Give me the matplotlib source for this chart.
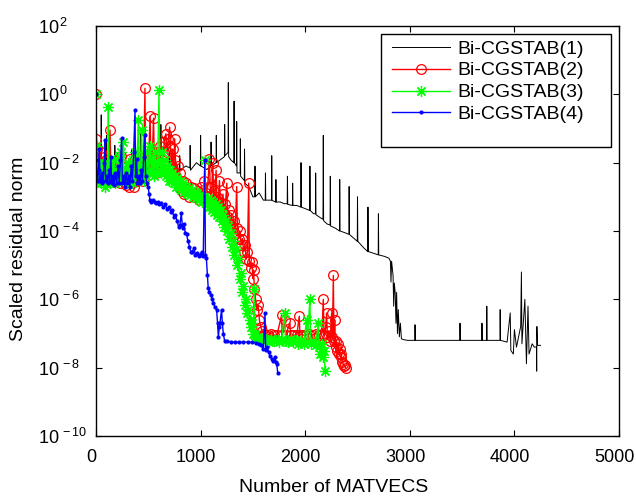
import matplotlib
matplotlib.use("Agg")
import matplotlib.pyplot as plt
import matplotlib.transforms as mtransforms
from matplotlib.patches import Rectangle

plt.rcParams['font.family'] = ['Liberation Sans', 'DejaVu Sans']
plt.rcParams['mathtext.fontset'] = 'custom'
plt.rcParams['mathtext.rm'] = 'Liberation Sans'
plt.rcParams['mathtext.it'] = 'Liberation Sans'

# Bi-CGSTAB(1): number of matvecs and scaled residual norm
x1 = [0, 8, 30, 48, 50, 53, 78, 98, 100, 103, 150, 178, 180, 183, 230, 258, 260, 263,
      300, 338, 340, 343, 400, 428, 430, 433, 480, 518, 520, 523, 580, 618, 620, 623,
      650, 698, 700, 703, 760, 798, 800, 803, 860, 898, 900, 903, 960, 998, 1000, 1003,
      1060, 1098, 1100, 1103, 1148, 1150, 1153, 1200, 1228, 1230, 1233, 1263, 1265,
      1268, 1290, 1318, 1320, 1323, 1343, 1345, 1348, 1378, 1380, 1383, 1418, 1420,
      1423, 1460, 1500, 1518, 1520, 1523, 1560, 1600, 1618, 1620, 1623, 1678, 1680,
      1683, 1718, 1720, 1723, 1760, 1800, 1828, 1830, 1833, 1878, 1880, 1883, 1920,
      1958, 1960, 1963, 2000, 2043, 2045, 2048, 2080, 2098, 2100, 2103, 2140, 2170,
      2173, 2176, 2210, 2238, 2240, 2243, 2290, 2328, 2330, 2333, 2380, 2418, 2420,
      2423, 2460, 2498, 2500, 2503, 2560, 2598, 2600, 2603, 2660, 2698, 2700, 2703,
      2760, 2800, 2815, 2820, 2826, 2840, 2846, 2852, 2860, 2868, 2874, 2882, 2890,
      2900, 2910, 2920, 2940, 2980, 3048, 3050, 3053, 3300, 3478, 3480, 3483, 3688,
      3690, 3693, 3734, 3736, 3739, 3862, 3864, 3867, 3930, 3960, 3966, 3990, 4000,
      4020, 4060, 4067, 4072, 4100, 4115, 4130, 4140, 4170, 4190, 4211, 4213, 4215,
      4220, 4250]
r1 = [1.0, 1.3e-2, 6e-3, 7e-3, 2.5e-1, 7e-3, 1e-2, 8e-3, 6.3e-2, 6e-3, 5e-3, 6e-3,
      3.2e-2, 6e-3, 8e-3, 6e-3, 5e-2, 5e-3, 6.3e-3, 6e-3, 2.5e-2, 5e-3, 6.3e-3, 7e-3,
      7.9e-2, 7e-3, 4e-3, 5e-3, 3.2e-2, 5e-3, 7.9e-3, 7e-3, 1.3e-1, 6e-3, 6e-3, 6e-3,
      2e-2, 5e-3, 7.9e-3, 6e-3, 1.6e-2, 6e-3, 8e-3, 7e-3, 3.2e-2, 6e-3, 1e-2, 8e-3,
      6.3e-2, 8e-3, 6.3e-3, 8e-3, 4e-2, 8e-3, 1e-2, 6.3e-2, 1e-2, 1.3e-2, 1.5e-2,
      1.3e-1, 1.6e-2, 2e-2, 2.2, 1.5e-2, 1.2e-2, 1e-2, 6.3e-1, 1e-2, 8e-3, 1.6e-1,
      5e-3, 5e-3, 5e-2, 4e-3, 3e-3, 2.5e-2, 2.5e-3, 2e-3, 1e-3, 1e-3, 7.9e-3, 1e-3,
      1.3e-3, 8e-4, 8e-4, 5e-3, 8e-4, 8e-4, 1.6e-2, 7.9e-4, 7e-4, 3.2e-3, 7e-4,
      7.1e-4, 6.3e-4, 6.3e-4, 4e-3, 6e-4, 5.6e-4, 2.5e-3, 5.6e-4, 5.6e-4, 5e-4,
      1e-2, 5e-4, 4.5e-4, 4e-4, 7.9e-3, 4e-4, 3.2e-4, 3.2e-4, 5e-3, 3e-4, 2.5e-4,
      2.2e-4, 6.3e-2, 2e-4, 1.6e-4, 1.5e-4, 4e-3, 1.4e-4, 1.2e-4, 1e-4, 3.2e-3, 1e-4,
      8.9e-5, 8e-5, 2e-3, 7.9e-5, 6.3e-5, 5e-5, 1e-3, 5e-5, 3.2e-5, 2.5e-5, 5e-4,
      2.5e-5, 2.2e-5, 2e-5, 3.2e-4, 2e-5, 1.8e-5, 1.6e-5, 1.3e-5, 3.2e-6, 1.3e-5,
      5e-6, 6.3e-7, 3e-6, 1.6e-6, 2e-7, 1.6e-6, 1e-7, 5e-7, 8e-8, 2e-7, 7e-8, 6.6e-8,
      6.3e-8, 6.3e-8, 1.8e-7, 6.3e-8, 6.3e-8, 6.3e-8, 2e-7, 6.3e-8, 6.3e-8, 2e-7,
      6.3e-8, 6.3e-8, 6.3e-7, 6.3e-8, 6.3e-8, 5e-7, 6.3e-8, 5.6e-8, 4e-7, 3.2e-8,
      2.5e-8, 1.3e-7, 4e-8, 1.6e-7, 6.3e-6, 5e-8, 1e-6, 1.3e-8, 6.3e-7, 2.5e-8, 5e-8,
      4e-8, 4e-8, 7.9e-9, 1.6e-7, 4.5e-8, 4.5e-8]

# Bi-CGSTAB(2)
x2 = [0, 4, 8, 14, 20, 28, 36, 44, 52, 60, 70, 80, 90, 100, 112, 124, 134, 142, 152,
      164, 176, 188, 200, 214, 228, 242, 256, 270, 284, 298, 312, 326, 340, 354, 368,
      382, 396, 410, 424, 438, 452, 468, 474, 486, 500, 517, 524, 536, 550, 558, 570,
      584, 598, 612, 626, 640, 654, 668, 680, 692, 704, 712, 722, 732, 742, 752, 760,
      770, 780, 790, 804, 818, 832, 846, 860, 876, 892, 908, 924, 940, 956, 972, 988,
      1004, 1020, 1036, 1052, 1068, 1084, 1092, 1104, 1116, 1124, 1136, 1148, 1156,
      1168, 1180, 1190, 1202, 1214, 1226, 1238, 1250, 1258, 1270, 1282, 1294, 1306,
      1318, 1330, 1345, 1352, 1364, 1376, 1388, 1400, 1412, 1424, 1436, 1448, 1460,
      1466, 1478, 1490, 1502, 1507, 1514, 1526, 1538, 1550, 1562, 1574, 1588, 1604,
      1620, 1640, 1670, 1700, 1730, 1775, 1780, 1806, 1812, 1854, 1860, 1890, 1920,
      1943, 1950, 1980, 2010, 2040, 2070, 2100, 2130, 2160, 2173, 2180, 2195, 2205,
      2212, 2225, 2240, 2253, 2260, 2269, 2275, 2282, 2290, 2298, 2306, 2314, 2322,
      2330, 2338, 2346, 2354, 2362, 2370, 2378, 2386]
r2 = [1.0, 5e-2, 1.3e-2, 2.5e-2, 5e-3, 1e-2, 6e-3, 2e-2, 4e-3, 8e-3, 5e-3, 1.5e-2,
      4e-3, 7e-3, 3e-3, 1.2e-2, 9e-2, 6e-3, 3.5e-3, 8e-3, 3e-3, 1.1e-2, 4e-3, 6e-3,
      2.5e-3, 1.6e-2, 3e-3, 5e-3, 2.2e-3, 8e-3, 2e-3, 1.3e-2, 2.5e-3, 5e-3, 2e-3,
      7e-3, 3e-3, 1.5e-2, 4e-3, 8e-3, 3e-3, 1.5, 5e-3, 1e-2, 6e-3, 2.3e-1, 1.6e-2,
      8e-3, 2e-1, 1e-2, 5e-3, 2e-2, 6e-3, 3e-2, 8e-3, 1.6e-2, 4e-2, 7e-2, 2e-2, 5e-2,
      1.1e-1, 3e-2, 8e-3, 2.5e-2, 5e-3, 5e-2, 1.2e-2, 3e-3, 8e-3, 2e-3, 5e-3, 1.5e-3,
      3e-3, 1.2e-3, 2.5e-3, 1.5e-3, 1e-3, 2e-3, 1.3e-3, 1.8e-3, 1e-3, 1.5e-3, 8e-4,
      2e-3, 1.2e-3, 3e-3, 1.3e-3, 2e-3, 1.3e-2, 2e-3, 1e-3, 1e-2, 1.5e-3, 8e-4, 6e-3,
      1e-3, 5e-4, 3e-3, 7e-4, 4e-4, 1.2e-3, 3.3e-4, 6e-4, 2.5e-3, 2.5e-4, 4e-4,
      1.6e-4, 3e-4, 1.2e-4, 2e-4, 8e-5, 2e-3, 1.2e-4, 6e-5, 1e-4, 4e-5, 6e-5, 2.5e-5,
      4e-5, 1.5e-5, 2.5e-5, 2.5e-3, 1.3e-5, 8e-6, 1.2e-5, 4e-6, 7.2e-6, 2e-6, 1e-6,
      5e-7, 7e-7, 2.5e-7, 1.6e-7, 1.2e-7, 1e-7, 9e-8, 9e-8, 1e-7, 9e-8, 9e-8, 3.5e-7,
      9e-8, 2.5e-7, 9e-8, 2e-7, 9e-8, 9e-8, 9e-8, 3.2e-7, 9e-8, 9e-8, 9e-8, 1e-7,
      9e-8, 1e-7, 9e-8, 1e-7, 1e-6, 9e-8, 1.5e-7, 4e-7, 8e-8, 1.2e-7, 6e-8, 4e-7,
      8e-8, 5e-6, 6e-8, 2.5e-7, 4e-8, 6e-8, 3e-8, 5e-8, 2.5e-8, 3.5e-8, 2e-8, 2.5e-8,
      1.5e-8, 1.3e-8, 1.1e-8, 1.2e-8, 1e-8]

# Bi-CGSTAB(3)
x3 = [0, 5, 10, 18, 26, 34, 42, 50, 60, 70, 80, 90, 100, 110, 118, 124, 134, 146, 158,
      170, 182, 194, 206, 218, 230, 242, 252, 261, 268, 280, 292, 304, 316, 328, 340,
      352, 364, 376, 388, 405, 412, 424, 436, 444, 456, 468, 480, 492, 504, 516, 528,
      540, 552, 564, 576, 590, 602, 610, 622, 634, 646, 658, 670, 682, 694, 706, 718,
      730, 742, 754, 766, 778, 790, 803, 816, 830, 844, 858, 872, 886, 900, 914, 928,
      942, 956, 970, 984, 998, 1012, 1026, 1042, 1048, 1060, 1072, 1084, 1096, 1108,
      1120, 1132, 1144, 1156, 1168, 1180, 1192, 1204, 1216, 1228, 1240, 1252, 1264,
      1276, 1288, 1300, 1312, 1324, 1336, 1348, 1360, 1372, 1384, 1396, 1408, 1420,
      1432, 1444, 1456, 1468, 1481, 1494, 1505, 1513, 1520, 1532, 1546, 1560, 1575,
      1600, 1625, 1650, 1675, 1700, 1725, 1750, 1775, 1806, 1812, 1835, 1860, 1885,
      1910, 1935, 1960, 1985, 2013, 2020, 2045, 2052, 2075, 2100, 2125, 2132, 2145,
      2160, 2172, 2182, 2189]
r3 = [1.0, 3e-2, 8e-3, 4e-3, 1e-2, 3e-3, 6e-3, 2.5e-3, 8e-3, 3e-3, 1e-2, 2e-3, 5e-3,
      3e-3, 4.2e-1, 6e-3, 2.5e-3, 8e-3, 3e-3, 1.2e-2, 2.5e-3, 6e-3, 3e-3, 1.5e-2,
      4e-3, 2e-2, 5e-3, 4e-2, 3e-3, 7e-3, 2.5e-3, 1e-2, 3e-3, 6e-3, 2.5e-3, 1.2e-2,
      4e-3, 2e-2, 5e-3, 1.8e-1, 8e-3, 4e-3, 9e-2, 6e-3, 3e-3, 1e-2, 4e-3, 2e-2, 5e-3,
      3e-2, 6e-3, 1.2e-2, 4e-3, 2e-2, 5e-3, 1e-2, 1.35, 1e-2, 5e-3, 2e-2, 6e-3,
      1.2e-2, 4e-3, 8e-3, 3e-3, 6e-3, 3e-3, 5e-3, 2.5e-3, 4e-3, 2e-3, 3.5e-3, 2e-3,
      3e-3, 1.6e-3, 2.5e-3, 1.4e-3, 2e-3, 1.2e-3, 1.8e-3, 1.1e-3, 1.6e-3, 1e-3,
      1.4e-3, 9e-4, 1.3e-3, 8e-4, 1.1e-3, 7e-4, 1e-3, 1.2e-2, 8e-4, 6e-4, 9e-4, 5e-4,
      8e-4, 4e-4, 7e-4, 3.5e-4, 6e-4, 3e-4, 5e-4, 2.5e-4, 4e-4, 2e-4, 3e-4, 1.3e-4,
      2e-4, 1e-4, 1.4e-4, 6e-5, 9e-5, 3.5e-5, 5e-5, 2e-5, 3e-5, 1e-5, 1.5e-5, 4e-6,
      6e-6, 1.6e-6, 2.5e-6, 7e-7, 1e-6, 4e-7, 5e-7, 2.5e-7, 1.6e-7, 2e-7, 1e-7, 2e-6,
      1e-7, 7e-8, 8e-8, 6.5e-8, 7e-8, 6e-8, 7e-8, 5.5e-8, 7e-8, 6e-8, 6.5e-8, 5.5e-8,
      7e-8, 4e-7, 6e-8, 5.5e-8, 7e-8, 5.5e-8, 6.5e-8, 5e-8, 6.5e-8, 5e-8, 2.5e-7,
      5.5e-8, 1.05e-6, 5e-8, 6e-8, 4.5e-8, 2e-7, 4e-8, 2.5e-8, 5e-8, 2e-8, 3e-8,
      7.9e-9]

# Bi-CGSTAB(4)
x4 = [0, 4, 10, 16, 24, 32, 38, 46, 54, 62, 70, 78, 86, 92, 102, 112, 122, 132, 142,
      150, 162, 174, 186, 198, 210, 222, 234, 245, 252, 264, 276, 288, 300, 312, 324,
      336, 348, 360, 373, 378, 388, 396, 408, 420, 432, 444, 456, 468, 474, 486, 498,
      508, 516, 530, 545, 560, 575, 590, 605, 620, 640, 660, 680, 700, 715, 730, 745,
      760, 775, 790, 803, 815, 828, 840, 853, 866, 880, 893, 906, 920, 937, 950, 965,
      980, 995, 1010, 1025, 1040, 1046, 1055, 1065, 1073, 1085, 1100, 1112, 1122, 1135,
      1153, 1162, 1170, 1178, 1185, 1200, 1208, 1217, 1230, 1250, 1290, 1330, 1370,
      1410, 1450, 1490, 1530, 1560, 1580, 1600, 1616, 1622, 1636, 1650, 1664, 1680,
      1696, 1710, 1720, 1728, 1737]
r4 = [1.0, 1.2e-2, 5e-3, 3e-3, 6e-3, 2.5e-2, 3e-3, 4e-3, 2.5e-3, 5e-3, 3e-3, 1e-2,
      4.6e-2, 3e-3, 4e-3, 2.5e-3, 6e-3, 3e-3, 1.5e-2, 2.5e-3, 4e-3, 2.2e-3, 5e-3,
      2.5e-3, 8e-3, 2.5e-3, 1.2e-2, 5.1e-2, 2.5e-3, 4e-3, 2e-3, 5e-3, 2.5e-3, 4e-3,
      2e-3, 8e-3, 3e-3, 2e-2, 3.4e-1, 4e-3, 1.3e-2, 2.5e-3, 4e-3, 2.5e-3, 6e-3, 3e-3,
      1.5e-2, 6.5e-2, 4e-3, 2.5e-3, 2e-3, 1.2e-3, 8e-4, 7e-4, 8e-4, 7e-4, 6.5e-4,
      7e-4, 6e-4, 6.5e-4, 5e-4, 6e-4, 4.5e-4, 5e-4, 3.5e-4, 4e-4, 2.5e-4, 3e-4, 2e-4,
      1.3e-4, 1.5e-4, 3.3e-4, 1.2e-4, 1.6e-4, 9e-5, 7.9e-5, 5e-5, 3.5e-5, 2.5e-5,
      2.5e-5, 3.2e-5, 2e-5, 2.2e-5, 1.8e-5, 2e-5, 2.5e-5, 1.8e-5, 1.2e-2, 2e-5,
      1.6e-5, 5e-6, 2.1e-6, 1.6e-6, 1.3e-6, 1e-6, 8e-7, 6e-7, 5e-7, 2e-7, 7.9e-8,
      1.5e-7, 2e-7, 5e-7, 2e-7, 1e-7, 6e-8, 5.9e-8, 5.7e-8, 5.6e-8, 5.6e-8, 5.6e-8,
      5.6e-8, 5.5e-8, 5.4e-8, 5e-8, 4.5e-8, 3.5e-8, 4e-7, 3.2e-8, 4e-8, 2.8e-8,
      2.2e-8, 1.8e-8, 1.6e-8, 2e-8, 1.5e-8, 1.3e-8, 7.2e-9]

labels = ['Bi-CGSTAB(1)', 'Bi-CGSTAB(2)', 'Bi-CGSTAB(3)', 'Bi-CGSTAB(4)']
yticks = [1e2, 1e0, 1e-2, 1e-4, 1e-6, 1e-8, 1e-10]
ytick_labels = [r'$10^{\,2}$', r'$10^{\,0}$', r'$10^{\,-2}$', r'$10^{\,-4}$',
                r'$10^{\,-6}$', r'$10^{\,-8}$', r'$10^{\,-10}$']
xticks = [0, 1000, 2000, 3000, 4000, 5000]

fig = plt.figure(figsize=(6.36, 4.96), dpi=100)
ax = fig.add_axes([96 / 636, 1 - 436 / 496, 523 / 636, 410 / 496])

ax.semilogy(x1, r1, color='k', linewidth=0.7, label=labels[0])
ax.semilogy(x2, r2, color='#ff0000', linewidth=1.0, marker='o', markersize=7,
            markerfacecolor='none', markeredgewidth=0.9, label=labels[1])
ax.semilogy(x3, r3, color='#00ff00', linewidth=1.0, marker=(8, 2, 0), markersize=8,
            markeredgewidth=0.9, label=labels[2])
ax.semilogy(x4, r4, color='#0000ff', linewidth=1.0, marker='.', markersize=4,
            label=labels[3])

ax.set_xlim(0, 5000)
ax.set_ylim(1e-10, 1e2)
ax.set_xticks(xticks)
ax.set_yticks(yticks)
ax.set_yticklabels(ytick_labels)
ax.minorticks_off()
ax.tick_params(direction='in', top=True, right=True, length=4, width=0.8,
               labelsize=13)
ax.tick_params(axis='x', pad=9)
ax.tick_params(axis='y', pad=42)
for lbl in ax.get_yticklabels():
    lbl.set_horizontalalignment('left')
shift = mtransforms.ScaledTranslation(-4.5 / 100, 0, fig.dpi_scale_trans)
for lbl in ax.get_xticklabels():
    lbl.set_transform(lbl.get_transform() + shift)
for s in ax.spines.values():
    s.set_linewidth(1.0)

ax.set_xlabel('Number of MATVECS', fontsize=14)
ax.set_ylabel('Scaled residual norm', fontsize=14)
ax.xaxis.set_label_coords(0.455, -0.104)
ax.yaxis.set_label_coords(-0.132, 0.456)

leg = ax.legend(loc='upper left', bbox_to_anchor=(0.566, 0.966), fontsize=14,
                numpoints=1, handlelength=3.0, handletextpad=0.35, frameon=False,
                borderpad=0, labelspacing=0.22, borderaxespad=0)
ax.add_patch(Rectangle((0.545, 0.705), 0.440, 0.276, transform=ax.transAxes,
                       fill=False, edgecolor='k', linewidth=1.0, zorder=5))

plt.savefig('out.png', dpi=100)
